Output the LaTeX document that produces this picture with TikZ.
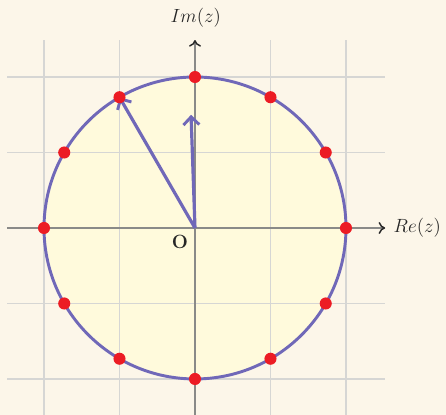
\documentclass[tikz,border=0pt]{standalone}
\usetikzlibrary{arrows.meta}
\definecolor{bg}{HTML}{FCF6E9}
\definecolor{disk}{HTML}{FFFADC}
\definecolor{rim}{HTML}{7068B8}
\definecolor{dotred}{HTML}{EC1C24}
\definecolor{gridc}{HTML}{D6D6D4}
\definecolor{axisc}{HTML}{8A8A88}
\tikzset{
  gridline/.style={gridc, line width=1.1pt},
  axisline/.style={axisc, line width=1.6pt, -{To[length=5pt,width=9pt,color=black!85,line width=1.1pt]}},
  vec/.style={rim, line width=2.4pt, -{Straight Barb[length=6pt,width=12pt,line width=2.2pt]}},
  rootdot/.style={circle, fill=dotred, inner sep=0pt, minimum size=0.16*2cm},
  lbl/.style={font=\fontsize{15}{17}\selectfont, text=black!85}
}
\begin{document}
\begin{tikzpicture}[x=2cm,y=2cm]
\fill[bg] (-2.583,-2.477) rectangle (3.325,3.020);
\useasboundingbox (-2.583,-2.477) rectangle (3.325,3.020);
\coordinate (O) at (0,0);
% grid
\foreach \k in {-2,-1,1,2} {
  \draw[gridline] (-2.49,\k) -- (2.52,\k);
  \draw[gridline] (\k,-2.6) -- (\k,2.49);
}
% disk
\fill[disk] (O) circle (2);
\foreach \k in {-2,-1,1,2} {
  \draw[gridline] (-2,\k) -- (2,\k);
  \draw[gridline] (\k,-2) -- (\k,2);
}
% axes
\coordinate (xs) at (-2.49,0);
\coordinate (xe) at (2.52,0);
\coordinate (ys) at (0,-2.6);
\coordinate (ye) at (0,2.49);
\draw[axisline] (xs) -- (xe);
\draw[axisline] (ys) -- (ye);
% circle
\draw[rim, line width=2.2pt] (O) circle (2);
% vectors
\coordinate (v2) at (92:1.5);
\draw[vec] (O) -- (120:2);
\draw[vec] (O) -- (v2);
% roots
\foreach \i in {0,...,11} {
  \node[rootdot] (p\i) at (\i*30:2) {};
}
% labels
\node[lbl, anchor=west] (re) at (2.57,0) {$Re(z)$};
\node[lbl] (im) at (0.01,2.79) {$Im(z)$};
\node[lbl] (o) at (-0.2,-0.185) {$\mathbf{O}$};
\end{tikzpicture}
\end{document}
